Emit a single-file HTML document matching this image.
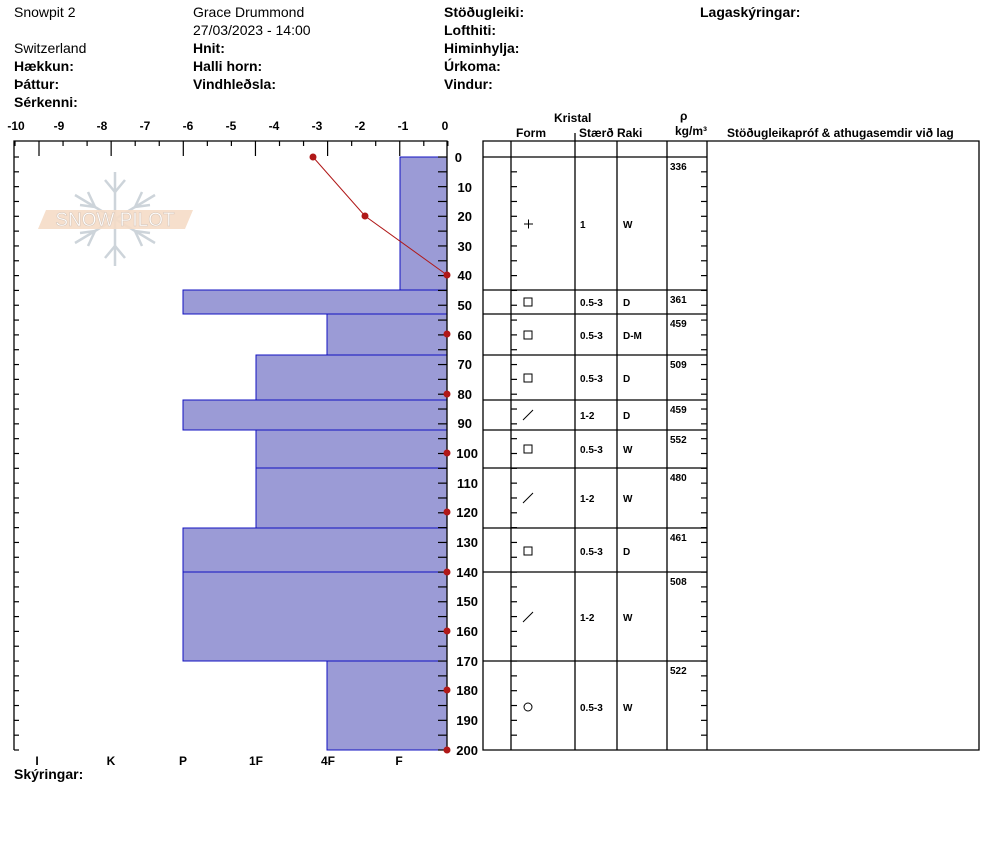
<!DOCTYPE html>
<html><head><meta charset="utf-8"><style>
body{margin:0;background:#fff;width:994px;height:840px;overflow:hidden}
svg{font-family:"Liberation Sans",Arial,sans-serif}
.b{font-weight:bold}
</style></head><body>
<svg width="994" height="840" xmlns="http://www.w3.org/2000/svg">
<g font-size="14">
<text x="14" y="17">Snowpit 2</text>
<text x="193" y="17">Grace Drummond</text>
<text x="193" y="35">27/03/2023 - 14:00</text>
<text x="14" y="53">Switzerland</text>
<g class="b">
<text x="444" y="17">Stöðugleiki:</text>
<text x="700" y="17">Lagaskýringar:</text>
<text x="444" y="35">Lofthiti:</text>
<text x="193" y="53">Hnit:</text>
<text x="444" y="53">Himinhylja:</text>
<text x="14" y="71">Hækkun:</text>
<text x="193" y="71">Halli horn:</text>
<text x="444" y="71">Úrkoma:</text>
<text x="14" y="89">Þáttur:</text>
<text x="193" y="89">Vindhleðsla:</text>
<text x="444" y="89">Vindur:</text>
<text x="14" y="107">Sérkenni:</text>
<text x="14" y="779">Skýringar:</text>
</g></g>
<!-- watermark -->
<g>
<g stroke="#cdd4da" stroke-width="2.5" fill="none">
<line x1="115" y1="172" x2="115" y2="266"/><line x1="75" y1="195" x2="155" y2="243"/><line x1="75" y1="243" x2="155" y2="195"/>
<path d="M105,180 L115,192 L125,180 M105,258 L115,246 L125,258 M80,205 L95,207 L88,192 M150,205 L135,207 L142,192 M80,233 L95,231 L88,246 M150,233 L135,231 L142,246"/>
</g>
<polygon points="46,210 193,210 185,229 38,229" fill="#f5dcc6" opacity="0.9"/>
<text x="115" y="226" font-size="19" fill="#fff" text-anchor="middle" stroke="#d8c8bc" stroke-width="0.6">SNOW PILOT</text>
</g>
<!-- bars -->
<g fill="#9b9bd6" stroke="#1010c0" stroke-width="1">
<rect x="400" y="157" width="47" height="133"/>
<rect x="183" y="290" width="264" height="24"/>
<rect x="327" y="314" width="120" height="41"/>
<rect x="256" y="355" width="191" height="45"/>
<rect x="183" y="400" width="264" height="30"/>
<rect x="256" y="430" width="191" height="38"/>
<rect x="256" y="468" width="191" height="60"/>
<rect x="183" y="528" width="264" height="44"/>
<rect x="183" y="572" width="264" height="89"/>
<rect x="327" y="661" width="120" height="89"/>
</g>
<g stroke="#000" stroke-width="1.3" fill="none">
<path d="M14,750 L14,141 L447,141 L447,750"/>
<path d="M483,141 H979 V750 H483 Z"/>
<line x1="483" y1="157" x2="707" y2="157"/>
<line x1="511" y1="141" x2="511" y2="750"/>
<line x1="575" y1="141" x2="575" y2="750"/>
<line x1="617" y1="141" x2="617" y2="750"/>
<line x1="667" y1="141" x2="667" y2="750"/>
<line x1="707" y1="141" x2="707" y2="750"/>
<line x1="575" y1="133" x2="575" y2="141"/>
</g>
<g stroke="#000" stroke-width="1.3">
<line x1="483" y1="290" x2="707" y2="290"/><line x1="483" y1="314" x2="707" y2="314"/>
<line x1="483" y1="355" x2="707" y2="355"/><line x1="483" y1="400" x2="707" y2="400"/>
<line x1="483" y1="430" x2="707" y2="430"/><line x1="483" y1="468" x2="707" y2="468"/>
<line x1="483" y1="528" x2="707" y2="528"/><line x1="483" y1="572" x2="707" y2="572"/>
<line x1="483" y1="661" x2="707" y2="661"/>
</g>
<g id="ticks" stroke="#000" stroke-width="1.2"></g>
<g font-size="12" class="b" text-anchor="middle">
<text x="16" y="130">-10</text><text x="59" y="130">-9</text><text x="102" y="130">-8</text><text x="145" y="130">-7</text><text x="188" y="130">-6</text><text x="231" y="130">-5</text><text x="274" y="130">-4</text><text x="317" y="130">-3</text><text x="360" y="130">-2</text><text x="403" y="130">-1</text><text x="445" y="130">0</text>
<text x="37" y="765">I</text><text x="111" y="765">K</text><text x="183" y="765">P</text><text x="256" y="765">1F</text><text x="328" y="765">4F</text><text x="399" y="765">F</text>
</g>
<g font-size="13" class="b" text-anchor="end">
<text x="462" y="162">0</text><text x="472" y="192">10</text><text x="472" y="221">20</text><text x="472" y="251">30</text><text x="472" y="280">40</text><text x="472" y="310">50</text><text x="472" y="340">60</text><text x="472" y="369">70</text><text x="472" y="399">80</text><text x="472" y="428">90</text><text x="478" y="458">100</text><text x="478" y="488">110</text><text x="478" y="517">120</text><text x="478" y="547">130</text><text x="478" y="577">140</text><text x="478" y="606">150</text><text x="478" y="636">160</text><text x="478" y="666">170</text><text x="478" y="695">180</text><text x="478" y="725">190</text><text x="478" y="755">200</text>
</g>
<g font-size="12" class="b">
<text x="554" y="122">Kristal</text><text x="516" y="137">Form</text><text x="579" y="137">Stærð</text><text x="617" y="137">Raki</text>
<text x="680" y="120">ρ</text><text x="675" y="135">kg/m³</text>
<text x="727" y="137">Stöðugleikapróf &amp; athugasemdir við lag</text>
</g>
<g font-size="10" class="b">
<text x="670" y="170">336</text><text x="670" y="303">361</text><text x="670" y="327">459</text><text x="670" y="368">509</text><text x="670" y="413">459</text><text x="670" y="443">552</text><text x="670" y="481">480</text><text x="670" y="541">461</text><text x="670" y="585">508</text><text x="670" y="674">522</text>
<text x="580" y="228">1</text><text x="623" y="228">W</text>
<text x="580" y="306">0.5-3</text><text x="623" y="306">D</text>
<text x="580" y="339">0.5-3</text><text x="623" y="339">D-M</text>
<text x="580" y="382">0.5-3</text><text x="623" y="382">D</text>
<text x="580" y="419">1-2</text><text x="623" y="419">D</text>
<text x="580" y="453">0.5-3</text><text x="623" y="453">W</text>
<text x="580" y="502">1-2</text><text x="623" y="502">W</text>
<text x="580" y="555">0.5-3</text><text x="623" y="555">D</text>
<text x="580" y="621">1-2</text><text x="623" y="621">W</text>
<text x="580" y="711">0.5-3</text><text x="623" y="711">W</text>
</g>
<g stroke="#000" stroke-width="1" fill="none">
<path d="M524,224h9M528.5,219.5v9"/>
<rect x="524" y="298" width="8" height="8"/><rect x="524" y="331" width="8" height="8"/><rect x="524" y="374" width="8" height="8"/>
<line x1="523" y1="420" x2="533" y2="410"/>
<rect x="524" y="445" width="8" height="8"/>
<line x1="523" y1="503" x2="533" y2="493"/>
<rect x="524" y="547" width="8" height="8"/>
<line x1="523" y1="622" x2="533" y2="612"/>
<circle cx="528" cy="707" r="4"/>
</g>
<polyline points="313,157 365,216 447,275" fill="none" stroke="#b01818" stroke-width="1"/>
<g fill="#b01818">
<circle cx="313" cy="157" r="3.5"/><circle cx="365" cy="216" r="3.5"/><circle cx="447" cy="275" r="3.5"/><circle cx="447" cy="334" r="3.5"/><circle cx="447" cy="394" r="3.5"/><circle cx="447" cy="453" r="3.5"/><circle cx="447" cy="512" r="3.5"/><circle cx="447" cy="572" r="3.5"/><circle cx="447" cy="631" r="3.5"/><circle cx="447" cy="690" r="3.5"/><circle cx="447" cy="750" r="3.5"/>
</g>
</svg>
<script>
var g=document.getElementById('ticks'),s='';
function L(a,b,c,d){s+='<line x1="'+a+'" y1="'+b+'" x2="'+c+'" y2="'+d+'"/>';}
L(15,141,15,146);
for(var i=0;i<18;i++){var x=39+i*24.05;var long=(i%3==0);L(x,141,x,long?156:146);}
for(var d=0;d<=200;d+=5){var y=157+d*2.965;var l=5;L(14,y,14+l,y);L(447,y,447-9,y);if(d>0&&d<200){L(511,y,517,y);L(707,y,701,y);}}
g.innerHTML=s;
</script>
</body></html>
